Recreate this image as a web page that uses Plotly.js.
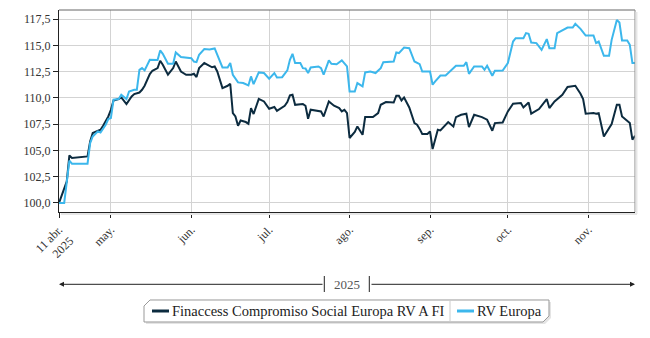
<!DOCTYPE html>
<html>
<head>
<meta charset="utf-8">
<script src="https://cdn.plot.ly/plotly-3.0.1.min.js"></script>
<style>html,body{margin:0;padding:0;background:#fff;}#chart{width:650px;height:338px;}</style>
</head>
<body>
<div id="chart"></div>
<script>
const fundName = "Finaccess Compromiso Social Europa RV A FI";
const benchName = "RV Europa";

const fundDates = ["2025-04-11","2025-04-14","2025-04-15","2025-04-16","2025-04-22","2025-04-23","2025-04-24","2025-04-26","2025-04-27","2025-04-28","2025-04-30","2025-05-01","2025-05-02","2025-05-04","2025-05-05","2025-05-07","2025-05-09","2025-05-10","2025-05-12","2025-05-13","2025-05-14","2025-05-16","2025-05-17","2025-05-19","2025-05-20","2025-05-21","2025-05-23","2025-05-25","2025-05-26","2025-05-28","2025-05-30","2025-06-01","2025-06-02","2025-06-03","2025-06-04","2025-06-06","2025-06-08","2025-06-09","2025-06-10","2025-06-11","2025-06-13","2025-06-15","2025-06-16","2025-06-17","2025-06-18","2025-06-19","2025-06-20","2025-06-22","2025-06-23","2025-06-24","2025-06-25","2025-06-27","2025-06-29","2025-07-01","2025-07-03","2025-07-04","2025-07-07","2025-07-08","2025-07-09","2025-07-10","2025-07-11","2025-07-14","2025-07-15","2025-07-16","2025-07-17","2025-07-19","2025-07-21","2025-07-22","2025-07-24","2025-07-26","2025-07-28","2025-07-29","2025-07-30","2025-07-31","2025-08-01","2025-08-03","2025-08-04","2025-08-06","2025-08-07","2025-08-10","2025-08-12","2025-08-13","2025-08-15","2025-08-18","2025-08-19","2025-08-20","2025-08-21","2025-08-22","2025-08-24","2025-08-26","2025-08-27","2025-08-28","2025-08-29","2025-08-31","2025-09-01","2025-09-02","2025-09-04","2025-09-05","2025-09-08","2025-09-10","2025-09-11","2025-09-13","2025-09-15","2025-09-16","2025-09-18","2025-09-21","2025-09-23","2025-09-25","2025-09-26","2025-09-29","2025-10-01","2025-10-03","2025-10-06","2025-10-07","2025-10-09","2025-10-10","2025-10-13","2025-10-16","2025-10-17","2025-10-19","2025-10-21","2025-10-22","2025-10-24","2025-10-27","2025-10-29","2025-10-30","2025-10-31","2025-11-03","2025-11-04","2025-11-05","2025-11-07","2025-11-10","2025-11-12","2025-11-13","2025-11-14","2025-11-17","2025-11-18","2025-11-19"];
const fundValues = [100.0,102.05,104.52,104.28,104.43,105.86,106.65,106.87,106.97,107.35,108.23,108.87,109.75,109.89,110.04,109.41,110.13,110.36,110.51,110.77,111.15,112.26,112.58,112.83,113.53,113.15,112.2,112.83,113.46,112.51,112.2,112.2,112.29,111.98,112.83,113.31,113.08,112.91,112.99,112.51,110.93,111.15,111.34,108.55,108.23,107.35,107.85,107.70,107.54,109.03,108.46,109.91,109.66,108.96,109.13,108.77,109.25,109.60,110.23,110.29,109.34,109.41,109.25,108.01,108.87,108.80,108.71,108.23,109.66,109.25,109.03,108.71,108.87,108.55,106.18,106.75,107.28,106.49,108.17,108.17,108.55,109.34,109.60,109.56,110.20,110.20,109.75,110.04,109.09,107.60,107.44,107.05,106.56,106.56,106.81,105.13,106.97,106.90,107.70,107.28,108.17,108.39,108.49,107.22,108.39,108.17,107.92,106.87,107.60,107.66,108.71,109.44,109.51,109.09,109.56,108.49,108.93,109.89,109.03,109.66,110.13,110.29,111.03,111.15,110.39,109.89,108.49,108.55,108.49,108.55,106.33,107.51,109.34,109.34,108.23,107.60,106.02,106.40];

const benchDates = ["2025-04-11","2025-04-13","2025-04-15","2025-04-16","2025-04-22","2025-04-23","2025-04-24","2025-04-26","2025-04-27","2025-04-29","2025-04-30","2025-05-01","2025-05-02","2025-05-04","2025-05-05","2025-05-07","2025-05-08","2025-05-10","2025-05-11","2025-05-12","2025-05-13","2025-05-14","2025-05-16","2025-05-18","2025-05-19","2025-05-20","2025-05-21","2025-05-23","2025-05-25","2025-05-26","2025-05-28","2025-06-01","2025-06-02","2025-06-03","2025-06-04","2025-06-06","2025-06-08","2025-06-10","2025-06-11","2025-06-13","2025-06-15","2025-06-16","2025-06-17","2025-06-19","2025-06-21","2025-06-23","2025-06-24","2025-06-25","2025-06-27","2025-06-29","2025-07-01","2025-07-03","2025-07-04","2025-07-06","2025-07-08","2025-07-09","2025-07-10","2025-07-11","2025-07-13","2025-07-14","2025-07-15","2025-07-16","2025-07-17","2025-07-20","2025-07-21","2025-07-22","2025-07-24","2025-07-25","2025-07-27","2025-07-29","2025-07-31","2025-08-01","2025-08-03","2025-08-04","2025-08-06","2025-08-07","2025-08-09","2025-08-11","2025-08-13","2025-08-14","2025-08-18","2025-08-19","2025-08-20","2025-08-22","2025-08-24","2025-08-26","2025-08-28","2025-08-29","2025-09-01","2025-09-02","2025-09-03","2025-09-05","2025-09-07","2025-09-09","2025-09-11","2025-09-14","2025-09-15","2025-09-16","2025-09-18","2025-09-21","2025-09-22","2025-09-23","2025-09-25","2025-09-26","2025-09-29","2025-10-01","2025-10-03","2025-10-04","2025-10-07","2025-10-08","2025-10-09","2025-10-10","2025-10-12","2025-10-14","2025-10-16","2025-10-17","2025-10-19","2025-10-20","2025-10-22","2025-10-24","2025-10-26","2025-10-27","2025-10-29","2025-10-31","2025-11-03","2025-11-04","2025-11-05","2025-11-07","2025-11-09","2025-11-10","2025-11-12","2025-11-13","2025-11-14","2025-11-16","2025-11-17","2025-11-18","2025-11-19"];
const benchValues = [100.0,100.0,104.02,103.74,103.74,105.70,106.33,106.81,106.71,107.44,107.99,108.08,109.82,109.89,110.29,109.89,110.61,110.77,110.77,112.67,112.83,112.61,113.62,113.62,113.60,114.51,114.19,113.24,113.24,114.32,113.88,113.78,113.46,113.40,114.10,114.64,114.60,114.70,114.10,112.89,112.89,113.31,112.20,111.47,111.41,111.18,112.04,111.31,112.42,112.36,111.82,112.36,111.94,111.97,112.61,113.62,114.19,113.31,113.31,112.83,112.80,112.36,112.89,112.99,112.83,112.20,113.56,113.24,113.20,113.56,112.99,110.61,110.61,111.41,111.09,112.42,112.51,112.36,112.83,113.40,113.46,114.32,114.26,114.79,114.73,113.46,113.20,112.51,112.51,111.25,111.56,112.13,112.13,112.61,113.05,113.05,113.40,112.29,112.99,112.99,112.67,113.05,112.10,112.58,112.60,113.31,115.36,115.68,115.68,116.16,116.10,115.27,115.21,114.57,115.59,114.73,114.73,116.16,116.41,116.69,116.69,117.04,116.57,115.93,115.93,115.21,115.36,114.00,114.00,115.52,117.42,117.17,115.46,115.46,115.05,113.31,113.31];

const tickDates = ["2025-04-11","2025-05-01","2025-06-01","2025-07-01","2025-08-01","2025-09-01","2025-10-01","2025-11-01"];
const tickLabels = ["11 abr.<br>2025","may.","jun.","jul.","ago.","sep.","oct.","nov."];
const yearLabel = "2025";

const fundColor = "#0c2b3f";
const benchColor = "#3cb7ec";
const serif = "'Liberation Serif', 'DejaVu Serif', serif";

const traces = [
  {x: fundDates, y: fundValues, name: fundName, type: "scatter", mode: "lines",
   line: {color: fundColor, width: 2}},
  {x: benchDates, y: benchValues, name: benchName, type: "scatter", mode: "lines",
   line: {color: benchColor, width: 2}}
];

// plot area: left 59, width 576, top 10, height 202 (px)
const PL = 59, PW = 576, PB = 212, PH = 202;
const px = v => (v - PL) / PW;
const py = v => (PB - v) / PH;
function poly(pts) {
  return pts.map((p, i) => (i ? "L" : "M") + px(p[0]).toFixed(5) + "," + py(p[1]).toFixed(5)).join(" ") + " Z";
}
const boxPts = [[144,306],[150,300],[549,300],[549,316],[543,322],[144,322]];
const shadowPts = boxPts.map(p => [p[0] + 2, p[1] + 2]);

const layout = {
  width: 650, height: 338,
  margin: {l: 59, r: 15, t: 10, b: 126, autoexpand: false},
  paper_bgcolor: "#fff", plot_bgcolor: "#fff",
  separators: ",.",
  font: {family: serif, size: 12, color: "#333"},
  showlegend: false,
  xaxis: {
    type: "date", range: ["2025-04-11", "2025-11-19"], automargin: false,
    tickvals: tickDates, ticktext: tickLabels, tickangle: -45,
    showgrid: true, gridcolor: "#d3d3d3", gridwidth: 1,
    showline: true, linecolor: "#222", linewidth: 1,
    ticks: "outside", ticklen: 5, tickcolor: "#222",
    tickfont: {family: serif, size: 12, color: "#333"},
    zeroline: false, fixedrange: true
  },
  yaxis: {
    range: [99.14, 118.36], dtick: 2.5, tick0: 100, tickformat: ".1f", automargin: false,
    showgrid: true, gridcolor: "#d3d3d3", gridwidth: 1,
    showline: true, linecolor: "#222", linewidth: 1,
    ticks: "outside", ticklen: 5, tickcolor: "#222",
    tickfont: {family: serif, size: 12, color: "#333"},
    zeroline: false, fixedrange: true
  },
  shapes: [
    {type: "line", xref: "paper", yref: "paper", x0: 0, x1: 1, y0: 1, y1: 1, line: {color: "#666", width: 1}},
    {type: "line", xref: "paper", yref: "paper", x0: 1, x1: 1, y0: 0, y1: 1, line: {color: "#888", width: 1}},
    {type: "line", xref: "paper", yref: "paper", x0: px(636.5), x1: px(636.5), y0: py(214), y1: py(12), line: {color: "#e6e6e6", width: 2}},
    {type: "line", xref: "paper", yref: "paper", x0: px(61), x1: px(637), y0: py(214), y1: py(214), line: {color: "#e6e6e6", width: 2}},
    {type: "line", xref: "paper", yref: "paper", x0: px(324.3), x1: px(324.3), y0: py(292), y1: py(276), line: {color: "#222", width: 1}},
    {type: "line", xref: "paper", yref: "paper", x0: px(369.3), x1: px(369.3), y0: py(292), y1: py(276), line: {color: "#222", width: 1}},
    {type: "path", xref: "paper", yref: "paper", path: poly(shadowPts), fillcolor: "#e4e4e4", line: {width: 0}},
    {type: "path", xref: "paper", yref: "paper", path: poly(boxPts), fillcolor: "#fff", line: {color: "#999", width: 1}},
    {type: "line", xref: "paper", yref: "paper", x0: px(450), x1: px(450), y0: py(300), y1: py(322), line: {color: "#ccc", width: 1}},
    {type: "line", xref: "paper", yref: "paper", x0: px(152), x1: px(169), y0: py(311), y1: py(311), line: {color: fundColor, width: 3}},
    {type: "line", xref: "paper", yref: "paper", x0: px(457), x1: px(474), y0: py(311), y1: py(311), line: {color: benchColor, width: 3}}
  ],
  annotations: [
    {xref: "paper", yref: "paper", x: 0, y: py(284.3), text: "", showarrow: true,
     ax: 265, ay: 0, arrowhead: 2, arrowsize: 1, arrowwidth: 1, arrowcolor: "#222"},
    {xref: "paper", yref: "paper", x: 1, y: py(284.3), text: "", showarrow: true,
     ax: -265, ay: 0, arrowhead: 2, arrowsize: 1, arrowwidth: 1, arrowcolor: "#222"},
    {xref: "paper", yref: "paper", x: px(346.8), y: py(284.3), text: yearLabel, showarrow: false,
     xanchor: "center", yanchor: "middle", font: {family: serif, size: 13, color: "#555"}},
    {xref: "paper", yref: "paper", x: px(169.5), y: py(311), text: fundName, showarrow: false,
     xanchor: "left", yanchor: "middle", font: {family: serif, size: 14.5, color: "#222"}},
    {xref: "paper", yref: "paper", x: px(474.5), y: py(311), text: benchName, showarrow: false,
     xanchor: "left", yanchor: "middle", font: {family: serif, size: 14.5, color: "#222"}}
  ]
};

Plotly.newPlot("chart", traces, layout, {staticPlot: true, displayModeBar: false});
</script>
</body>
</html>
